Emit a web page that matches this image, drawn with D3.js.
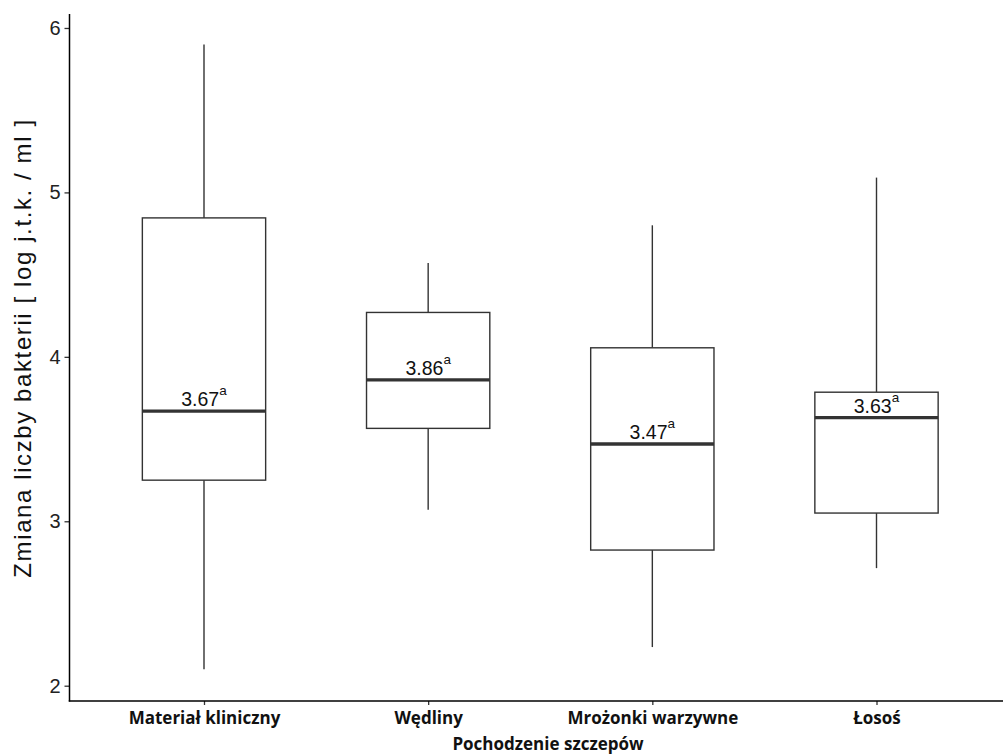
<!DOCTYPE html>
<html><head><meta charset="utf-8">
<script src="https://cdn.jsdelivr.net/npm/d3@7"></script>
<style>body{margin:0;background:#fff}</style>
</head><body>
<svg id="c" width="1003" height="756"></svg>
<script>
const categories = ["Materiał kliniczny", "Wędliny", "Mrożonki warzywne", "Łosoś"];
const whiskerLow = [2.10, 3.07, 2.235, 2.715];
const q1 = [3.25, 3.565, 2.825, 3.05];
const median = [3.67, 3.86, 3.47, 3.63];
const q3 = [4.845, 4.27, 4.055, 3.785];
const whiskerHigh = [5.90, 4.57, 4.80, 5.09];
const medianLabels = ["3.67", "3.86", "3.47", "3.63"];
const letters = ["a", "a", "a", "a"];
const yTicks = [2, 3, 4, 5, 6];

const svg = d3.select("#c");
const mLeft = 69.5, mTop = 14, mBottom = 701;
const x = d3.scaleLinear().domain([0.4, 4.6]).range([mLeft, 1011]);
const y = d3.scaleLinear().domain([1.907, 6.085]).range([mBottom, mTop]);
const bw = 0.55;
const stroke = "#333";

const g = svg.append("g");
categories.forEach((c, i) => {
  const cx = x(i + 1);
  const x0 = x(i + 1 - bw / 2), x1 = x(i + 1 + bw / 2);
  g.append("line").attr("x1", cx).attr("x2", cx).attr("y1", y(whiskerHigh[i])).attr("y2", y(q3[i]))
    .attr("stroke", stroke).attr("stroke-width", 1.4);
  g.append("line").attr("x1", cx).attr("x2", cx).attr("y1", y(q1[i])).attr("y2", y(whiskerLow[i]))
    .attr("stroke", stroke).attr("stroke-width", 1.4);
  g.append("rect").attr("x", x0).attr("width", x1 - x0).attr("y", y(q3[i])).attr("height", y(q1[i]) - y(q3[i]))
    .attr("fill", "#fff").attr("stroke", stroke).attr("stroke-width", 1.4);
  g.append("line").attr("x1", x0).attr("x2", x1).attr("y1", y(median[i])).attr("y2", y(median[i]))
    .attr("stroke", stroke).attr("stroke-width", 3.3);
  const t = g.append("text").attr("x", cx).attr("y", y(median[i]) - 5).attr("text-anchor", "middle")
    .attr("font-family", "Liberation Sans, Arial, sans-serif").attr("font-size", 19.5).attr("fill", "#111");
  t.append("tspan").text(medianLabels[i]);
  t.append("tspan").attr("dy", -11).attr("font-size", 13.5).text(letters[i]);
});

// y axis
const ya = svg.append("g").attr("transform", `translate(${mLeft},0)`)
  .call(d3.axisLeft(y).tickValues(yTicks).tickSize(5).tickPadding(4).tickFormat(d3.format("d")));
ya.select(".domain").remove();
ya.selectAll(".tick line").attr("stroke", "#333").attr("stroke-width", 1.3);
ya.selectAll(".tick text").attr("font-family", "Liberation Sans, Arial, sans-serif").attr("font-size", 20).attr("fill", "#222");
svg.append("line").attr("x1", mLeft).attr("x2", mLeft).attr("y1", mTop).attr("y2", mBottom + 0.5).attr("stroke", "#000").attr("stroke-width", 1.5);

// x axis
const xa = svg.append("g").attr("transform", `translate(0,${mBottom})`)
  .call(d3.axisBottom(x).tickValues([1, 2, 3, 4]).tickSize(4).tickPadding(7).tickFormat(d => categories[d - 1]));
xa.select(".domain").remove();
xa.selectAll(".tick line").attr("stroke", "#333").attr("stroke-width", 1.3);
xa.selectAll(".tick text").attr("font-family", "Open Sans, sans-serif").attr("font-weight", "bold").attr("font-size", 17).attr("fill", "#111");
svg.append("line").attr("x1", mLeft - 0.75).attr("x2", 1003).attr("y1", mBottom).attr("y2", mBottom).attr("stroke", "#000").attr("stroke-width", 1.5);

svg.append("text").attr("x", 548).attr("y", 750).attr("text-anchor", "middle")
  .attr("font-family", "Open Sans, sans-serif").attr("font-weight", "bold").attr("font-size", 17).attr("fill", "#111")
  .text("Pochodzenie szczepów");

svg.append("text").attr("transform", `translate(31,348) rotate(-90)`).attr("text-anchor", "middle")
  .attr("font-family", "Liberation Sans, Arial, sans-serif").attr("font-size", 24).attr("letter-spacing", 1.6).attr("fill", "#111")
  .text("Zmiana liczby bakterii [ log j.t.k. / ml ]");
</script>
</body></html>
